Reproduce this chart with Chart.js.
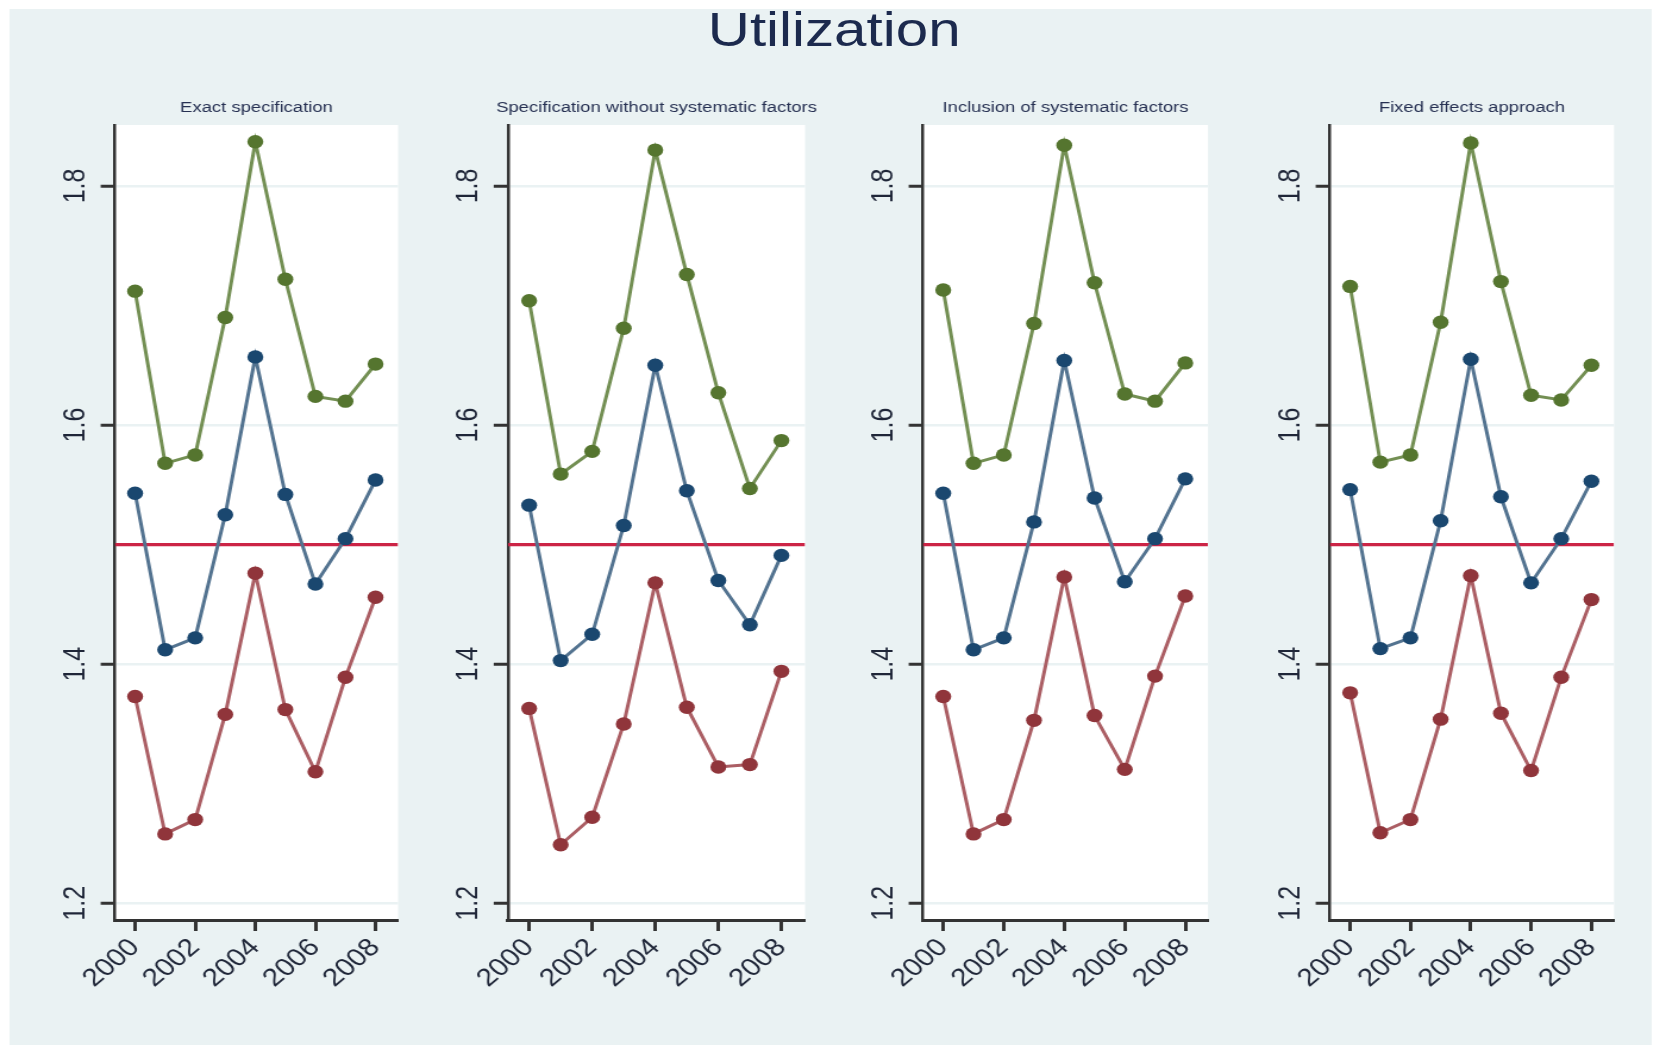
<!DOCTYPE html>
<html>
<head>
<meta charset="utf-8">
<title>Utilization</title>
<script src="https://cdn.jsdelivr.net/npm/chart.js@4.4.1/dist/chart.umd.min.js"></script>
<style>
  html, body { margin: 0; padding: 0; background: #ffffff; overflow: hidden; }
  /* the whole figure is laid out narrow and widened horizontally */
  #stage { position: absolute; left: 0; top: 0; width: 1394px; height: 1047px;
           transform: scaleX(1.19); transform-origin: 0 0; }
  #backdrop { position: absolute; left: 8.4px; top: 9px; width: 1380px; height: 1036px; background: #EAF2F3; }
  #title { position: absolute; left: 0; top: 4.5px; width: 1402px; text-align: center;
           font: 49px/49px "Liberation Sans", Arial, sans-serif; color: #1C2A4E; }
  canvas { position: absolute; top: 0; }
</style>
</head>
<body>
<div id="stage">
  <div id="backdrop"></div>
  <div id="title">Utilization</div>
  <canvas id="p1" width="360" height="1047" style="left:0px"></canvas>
  <canvas id="p2" width="340" height="1047" style="left:360px"></canvas>
  <canvas id="p3" width="340" height="1047" style="left:700px"></canvas>
  <canvas id="p4" width="354" height="1047" style="left:1040px"></canvas>
</div>
<script>
// ---- data ----
const years = [2000, 2001, 2002, 2003, 2004, 2005, 2006, 2007, 2008];
const xTickYears = [2000, 2002, 2004, 2006, 2008];
const yTickValues = [1.2, 1.4, 1.6, 1.8];
const referenceLevel = 1.5;

const panelTitles = [
  'Exact specification',
  'Specification without systematic factors',
  'Inclusion of systematic factors',
  'Fixed effects approach'
];

const exactUpper = [1.712, 1.568, 1.575, 1.690, 1.837, 1.722, 1.624, 1.620, 1.651];
const exactMid   = [1.543, 1.412, 1.422, 1.525, 1.657, 1.542, 1.467, 1.505, 1.554];
const exactLower = [1.373, 1.258, 1.270, 1.358, 1.476, 1.362, 1.310, 1.389, 1.456];

const noSystUpper = [1.704, 1.559, 1.578, 1.681, 1.830, 1.726, 1.627, 1.547, 1.587];
const noSystMid   = [1.533, 1.403, 1.425, 1.516, 1.650, 1.545, 1.470, 1.433, 1.491];
const noSystLower = [1.363, 1.249, 1.272, 1.350, 1.468, 1.364, 1.314, 1.316, 1.394];

const withSystUpper = [1.713, 1.568, 1.575, 1.685, 1.834, 1.719, 1.626, 1.620, 1.652];
const withSystMid   = [1.543, 1.412, 1.422, 1.519, 1.654, 1.539, 1.469, 1.505, 1.555];
const withSystLower = [1.373, 1.258, 1.270, 1.353, 1.473, 1.357, 1.312, 1.390, 1.457];

const fixedUpper = [1.716, 1.569, 1.575, 1.686, 1.836, 1.720, 1.625, 1.621, 1.650];
const fixedMid   = [1.546, 1.413, 1.422, 1.520, 1.655, 1.540, 1.468, 1.505, 1.553];
const fixedLower = [1.376, 1.259, 1.270, 1.354, 1.474, 1.359, 1.311, 1.389, 1.454];

// ---- layout & style ----
const FONT = '"Liberation Sans", Arial, sans-serif';
Chart.defaults.font.family = FONT;

const panels = [
  { canvas: 'p1', title: panelTitles[0], series: [exactUpper, exactMid, exactLower],          axisWidth: 96.6, rightPad: 25.5 },
  { canvas: 'p2', title: panelTitles[1], series: [noSystUpper, noSystMid, noSystLower],       axisWidth: 66.9, rightPad: 23.5 },
  { canvas: 'p3', title: panelTitles[2], series: [withSystUpper, withSystMid, withSystLower], axisWidth: 75.6, rightPad: 24.9 },
  { canvas: 'p4', title: panelTitles[3], series: [fixedUpper, fixedMid, fixedLower],          axisWidth: 77.6, rightPad: 37.7 }
];

const seriesStyle = [
  { marker: '#55752F', line: '#738F53' },
  { marker: '#1A476F', line: '#537390' },
  { marker: '#90353B', line: '#AB5E64' }
];

const X_MIN = 1999.33, X_MAX = 2008.75;
const Y_MIN = 1.186, Y_MAX = 1.851;
const AXIS_COLOR = '#333333';
const TEXT_COLOR = '#1F2638';

// white plot region behind the marks
const plotBackground = {
  id: 'plotBackground',
  beforeDraw(chart) {
    const { ctx, chartArea: a } = chart;
    ctx.save();
    ctx.fillStyle = '#ffffff';
    ctx.fillRect(a.left, a.top, a.right - a.left, a.bottom - a.top);
    ctx.restore();
  }
};

// small heading centred over each plot region
const panelHeading = {
  id: 'panelHeading',
  afterDraw(chart, args, opts) {
    const { ctx, chartArea: a } = chart;
    ctx.save();
    ctx.font = '15.5px ' + FONT;
    ctx.fillStyle = '#263052';
    ctx.textAlign = 'center';
    ctx.textBaseline = 'alphabetic';
    ctx.fillText(opts.text, (a.left + a.right) / 2, 112);
    ctx.restore();
  }
};

function pairs(values) {
  return years.map((yr, i) => ({ x: yr, y: values[i] }));
}

panels.forEach(p => {
  const datasets = p.series.map((vals, i) => ({
    data: pairs(vals),
    borderColor: seriesStyle[i].line,
    backgroundColor: seriesStyle[i].marker,
    pointBackgroundColor: seriesStyle[i].marker,
    pointBorderColor: seriesStyle[i].marker,
    pointBorderWidth: 0,
    pointRadius: 6.7,
    borderWidth: 3,
    tension: 0,
    order: i
  }));
  // horizontal reference level, drawn behind the series
  datasets.push({
    data: [{ x: X_MIN, y: referenceLevel }, { x: X_MAX, y: referenceLevel }],
    borderColor: '#CC2446',
    borderWidth: 3.2,
    pointRadius: 0,
    order: 10
  });

  new Chart(document.getElementById(p.canvas), {
    type: 'line',
    data: { datasets },
    plugins: [plotBackground, panelHeading],
    options: {
      responsive: false,
      animation: false,
      devicePixelRatio: 1,
      layout: { padding: { top: 125, bottom: 0, left: 0, right: p.rightPad } },
      plugins: {
        legend: { display: false },
        tooltip: { enabled: false },
        title: { display: false },
        panelHeading: { text: p.title }
      },
      scales: {
        x: {
          type: 'linear',
          min: X_MIN,
          max: X_MAX,
          afterBuildTicks: s => { s.ticks = xTickYears.map(v => ({ value: v })); },
          afterFit: s => { s.height = 127; },
          ticks: {
            autoSkip: false,
            minRotation: 45,
            maxRotation: 45,
            padding: 2,
            color: TEXT_COLOR,
            font: { size: 25 },
            callback: v => String(v)
          },
          grid: { drawOnChartArea: false, drawTicks: true, tickLength: 11, tickColor: AXIS_COLOR, tickWidth: 3 },
          border: { color: AXIS_COLOR, width: 3 }
        },
        y: {
          type: 'linear',
          min: Y_MIN,
          max: Y_MAX,
          afterBuildTicks: s => { s.ticks = yTickValues.map(v => ({ value: v })); },
          afterFit: s => { s.width = p.axisWidth; },
          ticks: {
            minRotation: 90,
            maxRotation: 90,
            crossAlign: 'center',
            padding: 3,
            color: TEXT_COLOR,
            font: { size: 25 },
            callback: v => Number(v).toFixed(1)
          },
          grid: { color: '#EAF2F3', lineWidth: 2.5, drawTicks: true, tickLength: 12, tickColor: AXIS_COLOR, tickWidth: 3 },
          border: { color: AXIS_COLOR, width: 2.5 }
        }
      }
    }
  });
});
</script>
</body>
</html>
